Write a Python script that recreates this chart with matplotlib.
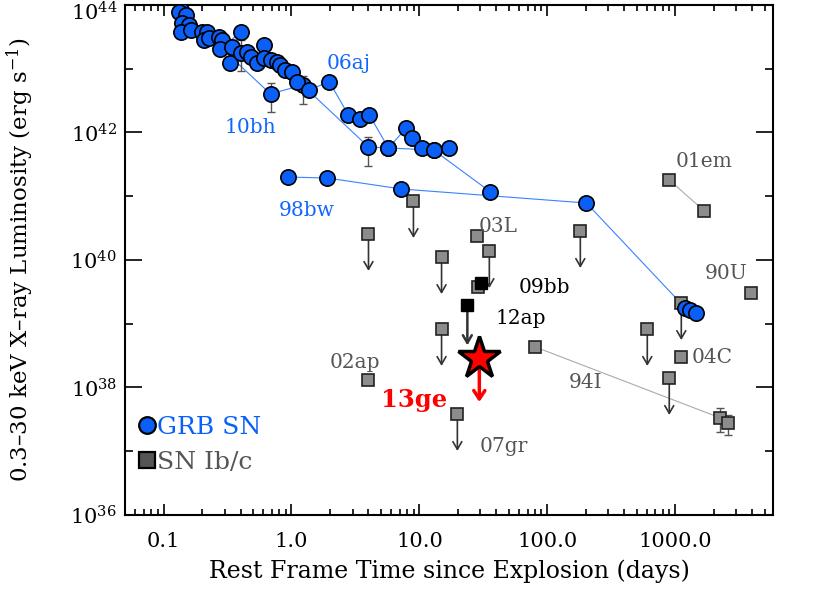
import matplotlib
matplotlib.use('Agg')
import matplotlib.pyplot as plt
from matplotlib.ticker import FixedLocator, FuncFormatter, NullFormatter
from matplotlib.lines import Line2D
import math

plt.rcParams['font.family'] = ['DejaVu Serif']
plt.rcParams['mathtext.fontset'] = 'dejavuserif'

# ---- GRB SNe (rest frame days, erg/s) ----
t_06aj = [0.132, 0.149, 0.140, 0.158, 0.136, 0.163, 0.200, 0.219, 0.207, 0.226,
          0.270, 0.288, 0.275, 0.400, 0.344, 0.333, 0.400, 0.451, 0.479, 0.540,
          0.608, 0.608, 0.686, 0.773, 0.820, 0.898, 1.01, 1.11, 1.36,
          1.98, 2.79, 3.46, 4.06, 5.73, 7.91, 8.82, 10.5, 12.9, 17.1]
L_06aj = [7.85e43, 6.97e43, 5.16e43, 4.85e43, 3.81e43, 4.06e43, 3.81e43, 3.81e43, 2.82e43, 3.01e43,
          3.18e43, 2.82e43, 2.02e43, 3.73e43, 2.22e43, 1.22e43, 1.75e43, 1.85e43, 1.55e43, 1.22e43,
          2.36e43, 1.46e43, 1.37e43, 1.29e43, 1.15e43, 9.55e42, 9.0e42, 6.27e42, 4.65e42,
          6.2e42, 1.88e42, 1.63e42, 1.88e42, 5.71e41, 1.18e42, 8.2e41, 5.71e41, 5.31e41, 5.71e41]

t_10bh = [0.136, 0.686, 1.22, 4.0, 5.73, 12.9, 35.9]
L_10bh = [8.4e43, 4.02e42, 5.56e42, 5.93e41, 5.71e41, 5.31e41, 1.17e41]

t_98bw = [0.948, 1.91, 7.23, 202, 1197, 1309, 1459]
L_98bw = [2.0e41, 1.93e41, 1.30e41, 7.83e40, 1.77e39, 1.64e39, 1.48e39]

# points with error bars
t_err_grb = [0.400, 0.686, 1.22, 4.0, 1459]
L_err_grb = [1.75e43, 4.02e42, 5.56e42, 5.93e41, 1.48e39]
L_hi_grb = [2.83e43, 5.97e42, 7.69e42, 8.5e41, 1.48e39]
L_lo_grb = [9.3e42, 2.10e42, 2.80e42, 2.99e41, 1.15e39]

# ---- SNe Ib/c ----
t_ul = [4.0, 8.98, 14.9, 14.9, 35.2, 181, 604, 1114, 897, 19.8]
L_ul = [2.56e40, 8.41e40, 1.11e40, 8.28e38, 1.38e40, 2.85e40, 8.28e38, 2.11e39, 1.41e38, 3.84e37]

t_det = [28.4, 4.0, 1114, 3926, 28.9]
L_det = [2.38e40, 1.31e38, 3.01e38, 3.03e39, 3.77e39]

t_01em = [897, 1687]
L_01em = [1.80e41, 5.87e40]

t_94I = [80.5, 2249, 2594]
L_94I = [4.32e38, 3.33e37, 2.77e37]
L_94I_hi = [4.6e38, 4.77e37, 3.71e37]
L_94I_lo = [3.9e38, 2.0e37, 1.8e37]

# black: 09bb (detection), 12ap (upper limit)
t_09bb, L_09bb = 30.5, 4.36e39
t_12ap, L_12ap = 23.7, 1.97e39

# SN 2013ge upper limit
t_13ge, L_13ge = 29.4, 2.9e38

labels = ['06aj', '10bh', '98bw', '01em', '03L', '90U', '09bb', '12ap', '02ap', '94I', '04C', '07gr']
label_t = [2.79, 0.479, 1.31, 1687, 41.4, 2500, 94.8, 61.5, 3.11, 198, 1945, 45.3]
label_L = [1.23e43, 1.18e42, 5.9e40, 3.57e41, 3.41e40, 6.03e39, 3.64e39, 1.23e39, 2.51e38, 1.18e38, 3.0e38, 1.17e37]
label_c = ['#1166ff', '#1166ff', '#1166ff', '#555555', '#555555', '#555555', 'black', 'black',
           '#555555', '#555555', '#555555', '#555555']

blue = '#0a5ff7'
line_blue = '#3b82ff'
sq_gray = '#8c8c8c'

fig = plt.figure(figsize=(8.3, 5.94), dpi=100)
ax = fig.add_axes([0.1506, 0.133, 0.7807, 0.8586])
ax.set_xscale('log')
ax.set_yscale('log')

# connecting lines
for t, L in [(t_06aj, L_06aj), (t_10bh, L_10bh), (t_98bw, L_98bw)]:
    ax.plot(t, L, '-', color=line_blue, lw=0.8, zorder=1)
ax.plot(t_01em, L_01em, '-', color='#aaaaaa', lw=0.8, zorder=1)
ax.plot(t_94I, L_94I, '-', color='#aaaaaa', lw=0.8, zorder=1)

# error bars
yerr = [[L - lo for L, lo in zip(L_err_grb, L_lo_grb)], [hi - L for L, hi in zip(L_err_grb, L_hi_grb)]]
ax.errorbar(t_err_grb, L_err_grb, yerr=yerr, fmt='none', ecolor='#555555', elinewidth=1, capsize=3, zorder=2)
yerr = [[L - lo for L, lo in zip(L_94I, L_94I_lo)], [hi - L for L, hi in zip(L_94I, L_94I_hi)]]
ax.errorbar(t_94I, L_94I, yerr=yerr, fmt='none', ecolor='#555555', elinewidth=1, capsize=3, zorder=2)

# upper limit arrows
arrow = '->,head_length=0.55,head_width=0.32'
for t, L in zip(t_ul, L_ul):
    ax.annotate('', xy=(t, L / 3.8), xytext=(t, L),
                arrowprops=dict(arrowstyle=arrow, color='#333333', lw=1.2, shrinkA=0, shrinkB=0), zorder=2)
ax.annotate('', xy=(t_12ap, L_12ap / 4.3), xytext=(t_12ap, L_12ap),
            arrowprops=dict(arrowstyle=arrow, color='#333333', lw=1.8, shrinkA=0, shrinkB=0), zorder=2)
ax.annotate('', xy=(t_13ge, L_13ge / 4.9), xytext=(t_13ge, L_13ge),
            arrowprops=dict(arrowstyle='->,head_length=0.6,head_width=0.4', color='red', lw=2.5,
                            shrinkA=0, shrinkB=0), zorder=2)

# markers
sq = dict(marker='s', ls='', ms=8, mfc=sq_gray, mec='#222222', mew=1.2, zorder=3)
ax.plot(t_ul, L_ul, **sq)
ax.plot(t_det, L_det, **sq)
ax.plot(t_01em, L_01em, **sq)
ax.plot(t_94I, L_94I, **sq)
ax.plot([t_09bb, t_12ap], [L_09bb, L_12ap], marker='s', ls='', ms=8, mfc='black', mec='black', zorder=4)

circ = dict(marker='o', ls='', ms=11, mfc=blue, mec='black', mew=1.2, zorder=3)
ax.plot(t_98bw, L_98bw, **circ)
ax.plot(t_10bh, L_10bh, **circ)
ax.plot(t_06aj, L_06aj, **circ)

ax.plot([t_13ge], [L_13ge], marker='*', ms=32, mfc='red', mec='black', mew=2.5, ls='', zorder=5)

for s, t, L, c in zip(labels, label_t, label_L, label_c):
    ax.text(t, L, s, color=c, fontsize=14.5, ha='center', va='center')
ax.text(9.14, 6.37e37, '13ge', color='red', fontsize=17.5, fontweight='bold', ha='center', va='center')

# legend
handles = [Line2D([], [], marker='o', ls='', ms=12, mfc=blue, mec='black', mew=1.6),
           Line2D([], [], marker='s', ls='', ms=11, mfc='#555555', mec='black', mew=1.6)]
ax.legend(handles, ['GRB SN', 'SN Ib/c'], loc='upper left', bbox_to_anchor=(0.023, 0.195),
          frameon=False, fontsize=18, labelcolor=[blue, '#555555'], handlelength=0.6,
          handletextpad=0.1, labelspacing=0.5, borderaxespad=0, borderpad=0)

ax.set_xlim(0.05, 5800)
ax.set_ylim(1e36, 1e44)
ax.yaxis.set_major_locator(FixedLocator([1e36, 1e38, 1e40, 1e42, 1e44]))
ax.yaxis.set_minor_locator(FixedLocator([1e37, 1e39, 1e41, 1e43]))
# top label is placed by hand below so it stays inside the figure
ax.yaxis.set_major_formatter(FuncFormatter(
    lambda v, p: '' if v > 1e43 else '$10^{%d}$' % round(math.log10(v))))
ax.yaxis.set_minor_formatter(NullFormatter())
ax.xaxis.set_major_formatter(FuncFormatter(lambda v, p: '%.1f' % v))
ax.xaxis.set_minor_formatter(NullFormatter())
ax.text(-0.011, 0.985, '$10^{44}$', transform=ax.transAxes, ha='right', va='center', fontsize=15)

ax.tick_params(which='both', direction='in', top=True, right=True, width=1.2, labelsize=15)
ax.tick_params(axis='x', which='major', length=8, pad=12)
ax.tick_params(axis='x', which='minor', length=4)
ax.tick_params(axis='y', which='major', length=12, pad=6)
ax.tick_params(axis='y', which='minor', length=6)
for sp in ax.spines.values():
    sp.set_linewidth(1.5)

ax.set_xlabel('Rest Frame Time since Explosion (days)', fontsize=17)
ax.xaxis.set_label_coords(0.5, -0.088)
ax.set_ylabel('0.3\u201330 keV X\u2013ray Luminosity (erg s$^{-1}$)', fontsize=16.5)
ax.yaxis.set_label_coords(-0.138, 0.5)

fig.savefig('out.png', dpi=100)
